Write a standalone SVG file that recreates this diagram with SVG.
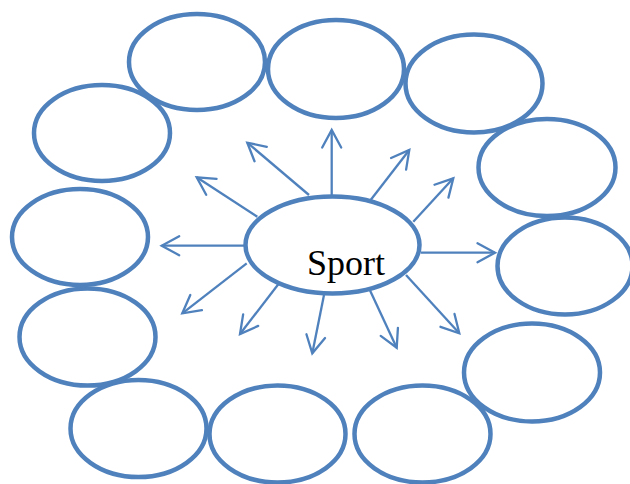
<svg xmlns="http://www.w3.org/2000/svg" width="630" height="484" viewBox="0 0 630 484">
<defs>
<style>
.n{fill:none;stroke:#4F81BD;stroke-width:4.5}
.c{fill:#fff;stroke:#4F81BD;stroke-width:4.5}
.a{fill:none;stroke:#4F81BD;stroke-width:2.3;marker-end:url(#h)}
.t{font-family:"Liberation Serif","Times New Roman",serif;font-size:36px;fill:#000}
</style>
<marker id="h" markerUnits="userSpaceOnUse" viewBox="-20 -12 24 24" refX="0" refY="0" markerWidth="24" markerHeight="24" orient="auto">
<path d="M-17.5,-9.5 L0,0 L-17.5,9.5" fill="none" stroke="#4F81BD" stroke-width="2.3" stroke-linecap="round" stroke-linejoin="miter"/>
</marker>
</defs>
<g id="n1"><ellipse class="n" cx="197" cy="62" rx="68" ry="48"/></g>
<g id="n2"><ellipse class="n" cx="336" cy="69" rx="68" ry="49"/></g>
<g id="n3"><ellipse class="n" cx="474" cy="83.5" rx="68.5" ry="49"/></g>
<g id="n4"><ellipse class="n" cx="547" cy="167.5" rx="68.5" ry="48.5"/></g>
<g id="n5"><ellipse class="n" cx="565" cy="266" rx="67.5" ry="48.5"/></g>
<g id="n6"><ellipse class="n" cx="532" cy="372.5" rx="68" ry="49"/></g>
<g id="n7"><ellipse class="n" cx="422.5" cy="434" rx="68" ry="48.5"/></g>
<g id="n8"><ellipse class="n" cx="277.5" cy="434" rx="68" ry="48.5"/></g>
<g id="n9"><ellipse class="n" cx="138.5" cy="428.5" rx="68" ry="48.5"/></g>
<g id="n10"><ellipse class="n" cx="87.5" cy="337" rx="68" ry="48.5"/></g>
<g id="n11"><ellipse class="n" cx="80" cy="237" rx="68" ry="48"/></g>
<g id="n12"><ellipse class="n" cx="102" cy="133" rx="68" ry="48"/></g>
<g id="connectors">
<line class="a" x1="331.7" y1="195" x2="331.7" y2="130"/>
<line class="a" x1="309" y1="195" x2="247.3" y2="142.7"/>
<line class="a" x1="257.3" y1="216.7" x2="196.7" y2="177.3"/>
<line class="a" x1="244" y1="245.7" x2="161.7" y2="245.7"/>
<line class="a" x1="246.7" y1="263.3" x2="182.3" y2="313.3"/>
<line class="a" x1="281" y1="280.7" x2="240" y2="334"/>
<line class="a" x1="324" y1="295" x2="312.3" y2="353.3"/>
<line class="a" x1="369" y1="288.3" x2="396.7" y2="347.7"/>
<line class="a" x1="406" y1="275" x2="459.3" y2="333.3"/>
<line class="a" x1="420.7" y1="252.7" x2="495" y2="252.7"/>
<line class="a" x1="413.3" y1="221.7" x2="453.3" y2="178.3"/>
<line class="a" x1="369.3" y1="201.7" x2="409.3" y2="150"/>
</g>
<g id="center">
<ellipse class="c" cx="332.5" cy="245" rx="87" ry="48.5"/>
<text class="t" x="307" y="275">Sport</text>
</g>
</svg>
